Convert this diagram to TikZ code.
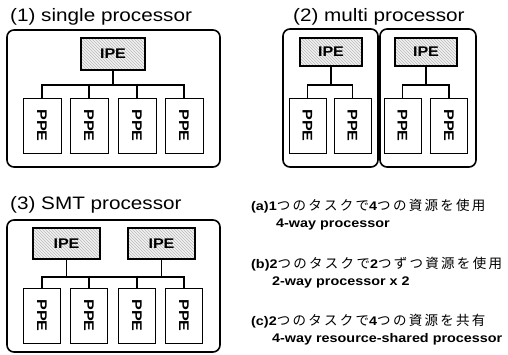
\documentclass[tikz,border=0pt]{standalone}
\usepackage{fontspec}
\setmainfont{Liberation Sans}[FakeStretch=1.15]
\newfontfamily\jpfont{Noto Sans CJK JP}[Scale=1.08,LetterSpace=17]
\usetikzlibrary{patterns}
\newcommand{\jp}[1]{{\jpfont\mdseries #1}}
\newcommand{\ppetext}{\rotatebox{-90}{PPE}}

\begin{document}
\begin{tikzpicture}[x=1pt,y=-1pt,
    unit/.style={draw,line width=1.6pt,rounded corners=7pt,inner sep=0pt},
    ipe/.style={draw,line width=1.4pt,inner sep=0pt,font=\fontsize{14}{14}\selectfont\bfseries,
      preaction={fill=gray!10},pattern=north west lines,pattern color=gray!55},
    ppe/.style={draw,fill=white,line width=0.9pt,inner sep=0pt,minimum width=38pt,
      minimum height=55pt,font=\fontsize{14}{14}\selectfont\bfseries},
    bus/.style={line width=1.9pt},
    title/.style={anchor=base west,inner sep=0pt,font=\fontsize{18}{18}\selectfont},
    note/.style={anchor=base west,inner sep=0pt,font=\fontsize{12.5}{12.5}\selectfont\bfseries}]
  \useasboundingbox (0,0) rectangle (508,355);

  % (1) single processor
  \node[title] (t1) at (10,22) {(1) single processor};
  \node[unit,minimum width=213pt,minimum height=137pt] (u1) at (113.5,98.5) {};
  \node[ipe,minimum width=64pt,minimum height=32pt] (i1) at (113,54) {IPE};
  \foreach \n/\x in {1/42,2/89,3/137,4/184}
    \node[ppe] (p1\n) at (\x,125.5) {\ppetext};
  \coordinate (bus1) at (113,85);
  \draw[bus] (i1.south) -- (i1.south |- bus1);
  \draw[bus] (p11.north) |- (bus1) -| (p14.north);
  \foreach \n in {2,3}
    \draw[bus] (p1\n.north) -- (p1\n.north |- bus1);

  % (2) multi processor
  \node[title] (t2) at (293,22) {(2) multi processor};
  \node[unit,minimum width=95pt,minimum height=138pt] (u2a) at (330.5,98) {};
  \node[unit,minimum width=96pt,minimum height=138pt] (u2b) at (428,98) {};
  \node[ipe,minimum width=62pt,minimum height=28pt] (i2a) at (331,52) {IPE};
  \node[ipe,minimum width=62pt,minimum height=28pt] (i2b) at (426,52) {IPE};
  \foreach \n/\x in {1/307.5,2/352.5,3/402.5,4/449}
    \node[ppe,minimum width=37pt] (p2\n) at (\x,125.5) {\ppetext};
  \coordinate (bus2a) at (331,85);
  \coordinate (bus2b) at (426,85);
  \draw[bus] (i2a.south) -- (bus2a);
  \draw[bus] (i2b.south) -- (bus2b);
  \draw[bus] (p21.north) |- (bus2a) -| (p22.north);
  \draw[bus] (p23.north) |- (bus2b) -| (p24.north);

  % (3) SMT processor
  \node[title] (t3) at (10,210) {(3) SMT processor};
  \node[unit,minimum width=213pt,minimum height=132pt] (u3) at (113.5,286) {};
  \node[ipe,minimum width=67pt,minimum height=31pt] (i3a) at (66.5,243.5) {IPE};
  \node[ipe,minimum width=67pt,minimum height=31pt] (i3b) at (161.5,243.5) {IPE};
  \foreach \n/\x in {1/42,2/89,3/137,4/184}
    \node[ppe,minimum width=37pt] (p3\n) at (\x,315.5) {\ppetext};
  \coordinate (bus3) at (113,277);
  \draw[bus] (i3a.south) -- (i3a.south |- bus3);
  \draw[bus] (i3b.south) -- (i3b.south |- bus3);
  \draw[bus] (p31.north) |- (bus3) -| (p34.north);
  \foreach \n in {2,3}
    \draw[bus] (p3\n.north) -- (p3\n.north |- bus3);

  % notes
  \node[note] (na) at (251,211) {(a)1\jp{つのタスクで}4\jp{つの資源を使用}};
  \node[note] (na2) at (276,228) {4-way processor};
  \node[note] (nb) at (251,268) {(b)2\jp{つのタスクで}2\jp{つずつ資源を使用}};
  \node[note] (nb2) at (272,285) {2-way processor x 2};
  \node[note] (nc) at (251,325) {(c)2\jp{つのタスクで}4\jp{つの資源を共有}};
  \node[note] (nc2) at (272,342) {4-way resource-shared processor};
\end{tikzpicture}
\end{document}
